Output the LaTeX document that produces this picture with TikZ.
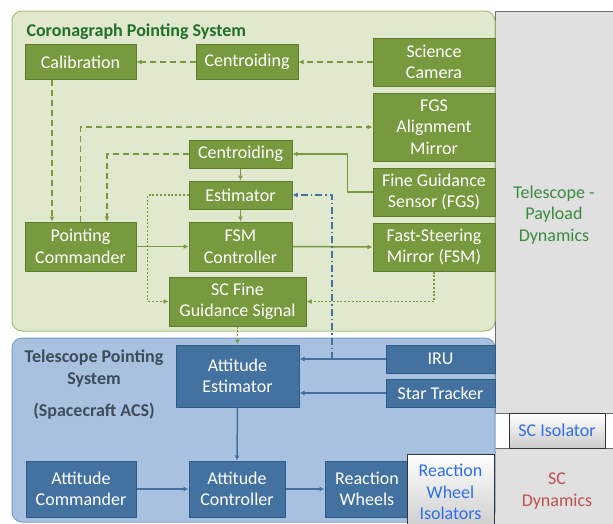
\documentclass[tikz,border=0pt]{standalone}
\usepackage{fontspec}
\setmainfont{Carlito}
\usetikzlibrary{arrows.meta}

\definecolor{coronafill}{HTML}{E0E8CD}
\definecolor{coronaline}{HTML}{A5BE7A}
\definecolor{coronatitle}{HTML}{22702A}
\definecolor{gboxfill}{HTML}{789A3F}
\definecolor{gboxline}{HTML}{5F7B2E}
\definecolor{scfill}{HTML}{A8C1DF}
\definecolor{scline}{HTML}{7B9CC6}
\definecolor{sctitle}{HTML}{3E4B5A}
\definecolor{bboxfill}{HTML}{4472A0}
\definecolor{bboxline}{HTML}{2E5A86}
\definecolor{panelfill}{HTML}{E0E0E0}
\definecolor{panelline}{HTML}{6E6E6E}
\definecolor{isoblue}{HTML}{2F6FEA}
\definecolor{dynred}{HTML}{C0504D}
\definecolor{dyngreen}{HTML}{3A8A3E}

\begin{document}
\begin{tikzpicture}[x=1pt, y=-1pt, line join=round,
    font=\fontsize{18}{21.5}\selectfont]
    \tikzset{
      gbox/.style={draw=gboxline, fill=gboxfill, line width=1pt, text=white,
        align=center, inner sep=0pt},
      bbox/.style={draw=bboxline, fill=bboxfill, line width=1pt, text=white,
        align=center, inner sep=0pt},
      isobox/.style={draw=black!80, line width=0.9pt, top color=white,
        bottom color=black!20, text=isoblue, align=center, inner sep=0pt},
      gflow/.style={draw=gboxfill, line width=1.5pt, -{Latex[length=5pt,width=5pt]}},
      gdash/.style={gflow, dash pattern=on 6pt off 4pt},
      gdot/.style={gflow, line width=1.9pt, dash pattern=on 2pt off 1.8pt},
      bflow/.style={draw=bboxfill, line width=1.5pt, -{Latex[length=5pt,width=5pt]}},
      bdashdot/.style={bflow, dash pattern=on 7pt off 3pt on 1.5pt off 3pt}
    }
    \useasboundingbox (0,0) rectangle (613,523);

    % Rahmen rechts (Dynamik)
    \draw[fill=panelfill, draw=panelline, line width=0.9pt] (495,11) rectangle (620,413);
    \draw[fill=panelfill, draw=panelline, line width=0.9pt] (494,448) rectangle (620,530);

    % Bereiche
    \draw[fill=coronafill, draw=coronaline, line width=1pt, rounded corners=10pt]
      (12,11) rectangle (495,331);
    \draw[fill=scfill, draw=scline, line width=1pt, rounded corners=10pt]
      (12,338) rectangle (495,522);

    \node[anchor=base west, text=coronatitle, font=\fontsize{18}{21}\selectfont\bfseries]
      (coronatitle) at (23,36) {Coronagraph Pointing System};
    \node[align=center, text=sctitle, font=\fontsize{18}{22}\selectfont\bfseries]
      (sctitle) at (94,369) {Telescope Pointing\\System};
    \node[text=sctitle, font=\fontsize{18}{21}\selectfont\bfseries]
      (scacs) at (94,411) {(Spacecraft ACS)};
    \node[align=center, text=dyngreen] (tpdyn) at (554,215) {Telescope -\\Payload\\Dynamics};
    \node[align=center, text=dynred] (scdyn) at (557,491) {SC\\Dynamics};

    % Bloecke Koronograph
    \node[gbox, minimum width=111pt, minimum height=35pt] (calib) at (80.5,62) {Calibration};
    \node[gbox, minimum width=102pt, minimum height=35pt] (topcent) at (247,62) {Centroiding};
    \node[gbox, minimum width=122pt, minimum height=48pt] (scicam) at (434,62) {Science\\Camera};
    \node[gbox, minimum width=122pt, minimum height=68pt] (fgsam) at (434,127) {FGS\\Alignment\\Mirror};
    \node[gbox, minimum width=122pt, minimum height=48pt] (fgs) at (434,192) {Fine Guidance\\Sensor (FGS)};
    \node[gbox, minimum width=122pt, minimum height=48pt] (fsm) at (434,247) {Fast-Steering\\Mirror (FSM)};
    \node[gbox, minimum width=103pt, minimum height=28pt] (midcent) at (240.5,154) {Centroiding};
    \node[gbox, minimum width=103pt, minimum height=28pt] (est) at (240.5,195) {Estimator};
    \node[gbox, minimum width=111pt, minimum height=49pt] (pcmd) at (80.5,246.5) {Pointing\\Commander};
    \node[gbox, minimum width=103pt, minimum height=49pt] (fsmc) at (240.5,246.5) {FSM\\Controller};
    \node[gbox, minimum width=137pt, minimum height=49pt] (scfgs) at (237.5,301.5) {SC Fine\\Guidance Signal};

    % Bloecke Raumfahrzeug
    \node[bbox, minimum width=123pt, minimum height=62pt] (attest) at (237.5,376) {Attitude\\Estimator};
    \node[bbox, minimum width=109pt, minimum height=28pt] (iru) at (440.5,359) {IRU};
    \node[bbox, minimum width=109pt, minimum height=28pt] (star) at (440.5,393) {Star Tracker};
    \node[bbox, minimum width=110pt, minimum height=56pt] (attcmd) at (81,489) {Attitude\\Commander};
    \node[bbox, minimum width=96pt, minimum height=56pt] (attctl) at (237,489) {Attitude\\Controller};
    \node[bbox, minimum width=84pt, minimum height=56pt] (rw) at (367,489) {Reaction\\Wheels};
    \node[isobox, minimum width=87pt, minimum height=76pt] (rwiso) at (450.5,492) {Reaction\\Wheel\\Isolators};
    \node[isobox, minimum width=96pt, minimum height=35pt] (sciso) at (557,430.5) {SC Isolator};

    % Verbindungen Koronograph
    \draw[gdash] (scicam.west) -- (topcent.east);
    \draw[gdash] (topcent.west) -- (calib.east);
    \draw[gdash] ([xshift=-28.5pt]calib.south) -- ([xshift=-28.5pt]pcmd.north);
    \draw[gdash] (pcmd.north) |- (fgsam.west);
    \draw[gdash] (midcent.west) -| ([xshift=26.5pt]pcmd.north);
    \draw[gflow] (fgs.west) -- ++(-25,0) |- (midcent.east);
    \draw[gflow] (midcent.south) -- (est.north);
    \draw[gflow] (est.south) -- (fsmc.north);
    \draw[gflow] (pcmd.east) -- (fsmc.west);
    \draw[gflow] (fsmc.east) -- (fsm.west);
    \draw[gdot] (est.west) -- ++(-41,0) |- (scfgs.west);
    \draw[gdot] (fsm.south) |- (scfgs.east);
    \draw[gdot] (scfgs.south) -- (attest.north);

    % Verbindungen Raumfahrzeug
    \coordinate (irutap) at (332,359);
    \draw[bdashdot] (irutap) |- (est.east);
    \draw[bflow] (iru.west) -- (iru.west -| attest.east);
    \draw[bflow] (star.west) -- (star.west -| attest.east);
    \draw[bflow] (attest.south) -- (attctl.north);
    \draw[bflow] (attcmd.east) -- (attctl.west);
    \draw[bflow] (attctl.east) -- (rw.west);
\end{tikzpicture}
\end{document}
